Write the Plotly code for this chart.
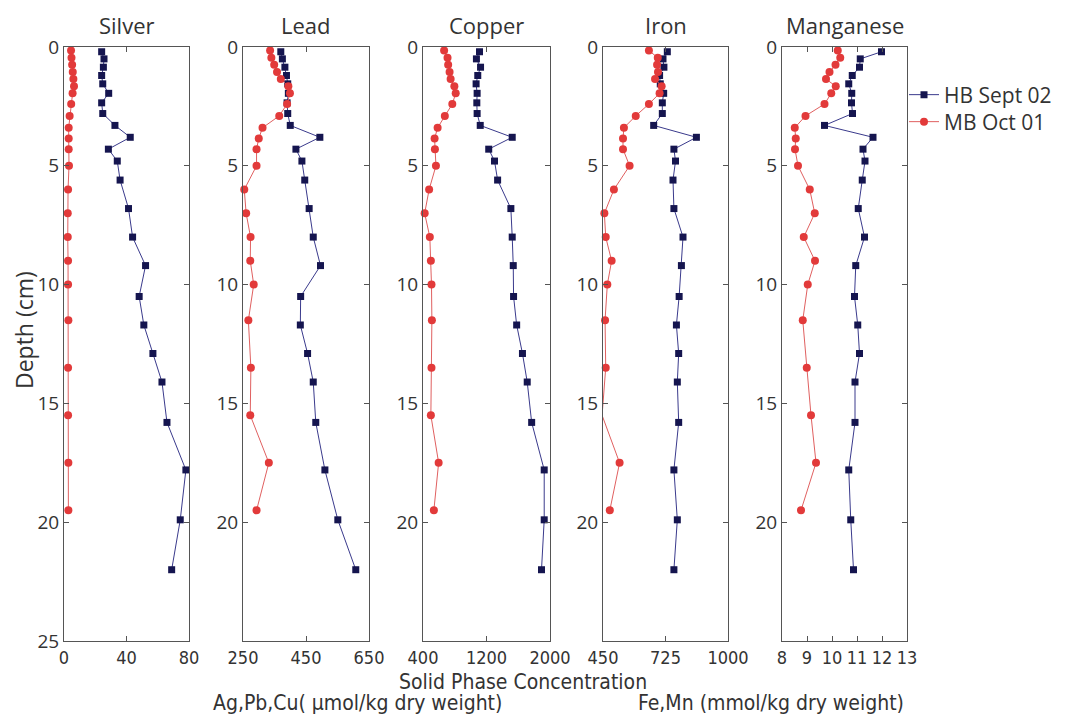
import plotly.graph_objects as go

W, H = 1078, 715

hb_depth = [0.2, 0.5, 0.85, 1.2, 1.55, 1.95, 2.35, 2.8, 3.3, 3.8, 4.3, 4.8, 5.6, 6.8, 8.0, 9.2,
            10.5, 11.7, 12.9, 14.1, 15.8, 17.8, 19.9, 22.0]
mb_depth = [0.15, 0.45, 0.75, 1.05, 1.35, 1.65, 1.95, 2.4, 2.9, 3.4, 3.85, 4.3, 5.0, 6.0, 7.0,
            8.0, 9.0, 10.0, 11.5, 13.5, 15.5, 17.5, 19.5]

silver_hb = [24.1, 25.6, 25.2, 24.1, 24.8, 28.6, 24.1, 24.8, 32.6, 42.4, 28.4, 34.1, 35.9, 41.3,
             43.9, 52.2, 48.1, 51.1, 56.9, 62.7, 65.9, 78.0, 74.4, 68.9]
silver_mb = [4.5, 4.8, 5.2, 5.6, 6.0, 6.4, 5.5, 4.6, 3.6, 3.0, 3.0, 3.0, 3.2, 2.6, 2.4, 2.4, 2.6,
             2.6, 2.8, 2.6, 2.6, 2.8, 2.8]
lead_hb = [370, 375, 383, 388, 392, 394, 390, 392, 400, 494, 418, 437, 446, 460, 473, 496, 433,
           432, 455, 473, 481, 510, 551, 608]
lead_mb = [336, 340, 349, 358, 370, 394, 399, 390, 365, 312, 300, 293, 293, 254, 260, 274, 273,
           284, 267, 275, 273, 332, 293]
copper_hb = [1112, 1073, 1125, 1090, 1069, 1082, 1078, 1082, 1121, 1524, 1228, 1301, 1340, 1507,
             1524, 1537, 1541, 1580, 1653, 1713, 1769, 1927, 1927, 1893]
copper_mb = [666, 709, 717, 735, 748, 795, 812, 769, 675, 584, 546, 550, 563, 477, 421, 486, 499,
             507, 512, 507, 499, 597, 537]
iron_hb = [733, 714, 718, 699, 702, 717, 711, 711, 673, 861, 762, 769, 758, 762, 802, 795, 785,
           773, 783, 777, 783, 762, 777, 762]
iron_mb = [652, 691, 688, 692, 679, 708, 699, 652, 594, 542, 538, 538, 567, 498, 456, 462, 488,
           469, 459, 462, 446, 523, 480]
mn_hb = [11.98, 11.13, 11.1, 10.81, 10.67, 10.79, 10.78, 10.82, 9.70, 11.64, 11.24, 11.32, 11.21,
         11.05, 11.30, 10.95, 10.9, 11.03, 11.1, 10.92, 10.92, 10.67, 10.75, 10.86]
mn_mb = [10.23, 10.33, 10.14, 9.9, 9.76, 10.15, 9.97, 9.7, 8.94, 8.51, 8.55, 8.52, 8.64, 9.11,
         9.31, 8.87, 9.32, 9.03, 8.83, 8.99, 9.16, 9.36, 8.76]

titles = ["Silver", "Lead", "Copper", "Iron", "Manganese"]
x_ranges = [[0, 80], [250, 650], [400, 2000], [450, 1000], [8, 13]]
x_ticks = [[0, 40, 80], [250, 450, 650], [400, 1200, 2000], [450, 725, 1000], [8, 9, 10, 11, 12, 13]]
hb_series = [silver_hb, lead_hb, copper_hb, iron_hb, mn_hb]
mb_series = [silver_mb, lead_mb, copper_mb, iron_mb, mn_mb]
depth_ticks = [0, 5, 10, 15, 20, 25]

series_names = ["HB Sept 02", "MB Oct 01"]

panel_px = [(64, 189), (243, 369), (423, 550), (603, 728), (782, 907)]
y_dom = [1 - 641 / H, 1 - 47 / H]

NAVY = "#15154f"
NAVY_LINE = "#3a3a8c"
RED = "#e23a3a"
RED_LINE = "#e06060"
AXC = "#555555"
TXT = "#333333"
COND = "DejaVu Sans Condensed, Liberation Sans Narrow, Open Sans, sans-serif"
REG = "Open Sans, Noto Sans, DejaVu Sans, sans-serif"

fig = go.Figure()
layout = {}
annotations = []
for i in range(5):
    ax = "" if i == 0 else str(i + 1)
    xa, ya = "x" + ax, "y" + ax
    fig.add_trace(go.Scatter(
        x=hb_series[i], y=hb_depth, xaxis=xa, yaxis=ya, mode="lines+markers",
        name=series_names[0], legend="legend", showlegend=(i == 0), cliponaxis=False,
        line=dict(color=NAVY_LINE, width=1),
        marker=dict(symbol="square", size=7, color=NAVY)))
    fig.add_trace(go.Scatter(
        x=mb_series[i], y=mb_depth, xaxis=xa, yaxis=ya, mode="lines+markers",
        name=series_names[1], legend="legend2", showlegend=(i == 0), cliponaxis=False,
        line=dict(color=RED_LINE, width=1),
        marker=dict(symbol="circle", size=8, color=RED)))
    l, r = panel_px[i]
    layout["xaxis" + ax] = dict(
        domain=[l / W, r / W], anchor=ya, range=x_ranges[i], tickvals=x_ticks[i],
        ticktext=[str(v) for v in x_ticks[i]], tickangle=0, automargin=False,
        showgrid=False, zeroline=False, showline=True, linecolor=AXC, linewidth=1,
        mirror="ticks", ticks="inside", ticklen=5, tickcolor=AXC,
        tickfont=dict(family=COND, size=18, color=TXT))
    ytv = depth_ticks if i == 0 else depth_ticks[:-1]
    layout["yaxis" + ax] = dict(
        domain=y_dom, anchor=xa, range=[25, 0], tickvals=depth_ticks, automargin=False,
        ticktext=[str(v) if v in ytv else "" for v in depth_ticks],
        showgrid=False, zeroline=False, showline=True, linecolor=AXC, linewidth=1,
        mirror="ticks", ticks="inside", ticklen=5, tickcolor=AXC,
        tickfont=dict(family=REG, size=19, color=TXT))
    annotations.append(dict(
        text=titles[i], xref="paper", yref="paper", x=(l + r) / 2 / W, y=1 - 25 / H,
        xanchor="center", yanchor="middle", showarrow=False,
        font=dict(family=REG, size=22, color=TXT)))

annotations += [
    dict(text="Depth (cm)", xref="paper", yref="paper", x=24 / W, y=1 - 330 / H,
         textangle=-90, xanchor="center", yanchor="middle", showarrow=False,
         font=dict(family=REG, size=23, color=TXT)),
    dict(text="Solid Phase Concentration", xref="paper", yref="paper", x=523 / W, y=1 - 682 / H,
         xanchor="center", yanchor="middle", showarrow=False,
         font=dict(family=COND, size=21, color=TXT)),
    dict(text="Ag,Pb,Cu( \u03bcmol/kg dry weight)", xref="paper", yref="paper", x=357 / W,
         y=1 - 703 / H, xanchor="center", yanchor="middle", showarrow=False,
         font=dict(family=COND, size=21, color=TXT)),
    dict(text="Fe,Mn (mmol/kg dry weight)", xref="paper", yref="paper", x=771 / W,
         y=1 - 703 / H, xanchor="center", yanchor="middle", showarrow=False,
         font=dict(family=COND, size=21, color=TXT)),
]

leg_common = dict(xanchor="left", yanchor="middle", font=dict(family=REG, size=21, color=TXT),
                  itemwidth=30, bgcolor="rgba(0,0,0,0)")

fig.update_layout(
    width=W, height=H, margin=dict(l=0, r=0, t=0, b=0, autoexpand=False),
    paper_bgcolor="white", plot_bgcolor="white",
    annotations=annotations,
    legend=dict(x=904 / W, y=1 - 95 / H, **leg_common),
    legend2=dict(x=904 / W, y=1 - 122 / H, **leg_common),
    **layout)

fig.write_html("out.html")
